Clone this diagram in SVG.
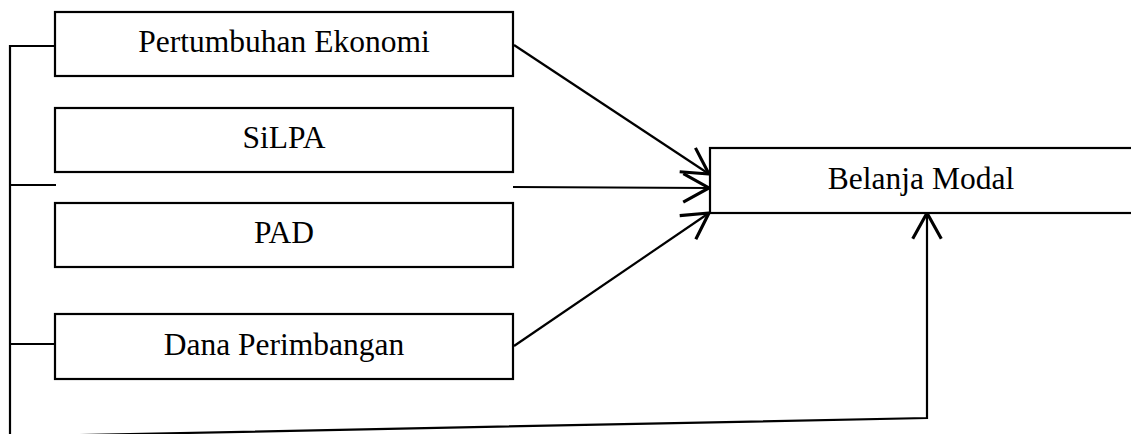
<svg xmlns="http://www.w3.org/2000/svg" width="1131" height="434" viewBox="0 0 1131 434">
<style>
.box{fill:#fff;stroke:#000;stroke-width:2.2}
.lbl{font-family:"Liberation Serif","Times New Roman",serif;font-size:31.5px;fill:#000;text-anchor:middle}
.ln{fill:none;stroke:#000;stroke-width:2.2}
</style>
<defs>
<marker id="ah" markerUnits="userSpaceOnUse" markerWidth="40" markerHeight="40" refX="0" refY="0" viewBox="-22 -14 26 28" orient="auto" overflow="visible">
<path d="M-18,-10 L0,0 L-18,10" fill="none" stroke="#000" stroke-width="2.2"/>
</marker>
</defs>
<rect width="1131" height="434" fill="#fff"/>
<g id="connectors">
<polyline class="ln" points="55,46 10,46 10,436"/>
<line class="ln" x1="10" y1="185" x2="56" y2="185"/>
<line class="ln" x1="10" y1="344" x2="55" y2="344"/>
<line class="ln" x1="514" y1="45" x2="709" y2="174" marker-end="url(#ah)"/>
<line class="ln" x1="513" y1="187" x2="709" y2="188" marker-end="url(#ah)"/>
<line class="ln" x1="514" y1="346" x2="709" y2="213" marker-end="url(#ah)"/>
<polyline class="ln" points="10,436.5 927,418 927,213" marker-end="url(#ah)"/>
</g>
<g id="pertumbuhan">
<rect class="box" x="55" y="12" width="458" height="64"/>
<text class="lbl" x="284" y="52">Pertumbuhan Ekonomi</text>
</g>
<g id="silpa">
<rect class="box" x="55" y="108" width="458" height="64"/>
<text class="lbl" x="284" y="148">SiLPA</text>
</g>
<g id="pad">
<rect class="box" x="55" y="203" width="458" height="64"/>
<text class="lbl" x="284" y="243">PAD</text>
</g>
<g id="dana">
<rect class="box" x="55" y="314" width="458" height="65"/>
<text class="lbl" x="284" y="355">Dana Perimbangan</text>
</g>
<g id="belanja">
<rect class="box" x="710" y="148" width="423" height="65"/>
<text class="lbl" x="921" y="189">Belanja Modal</text>
</g>
</svg>
